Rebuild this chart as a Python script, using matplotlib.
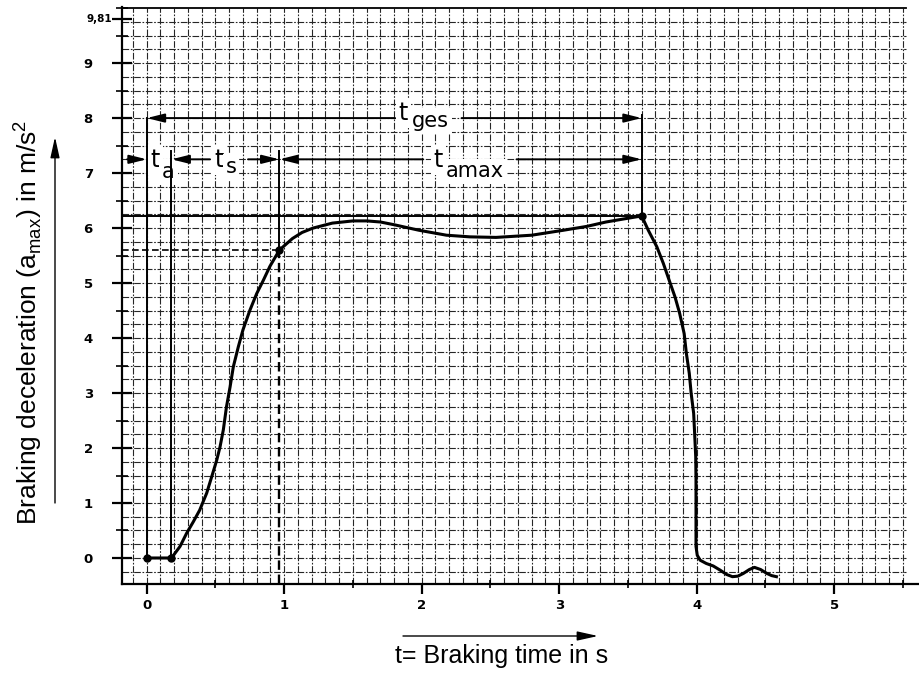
import numpy as np
import matplotlib.pyplot as plt
from matplotlib.ticker import MultipleLocator

## braking curve (t in s, a in m/s^2)
t_curve = [0.0, 0.18, 0.242, 0.29, 0.339, 0.385, 0.436, 0.48, 0.509, 0.533, 0.557,
           0.58, 0.606, 0.63, 0.666, 0.70, 0.751, 0.80, 0.848, 0.895, 0.965,
           1.06, 1.13, 1.21, 1.35, 1.50, 1.60, 1.70, 1.80, 1.98, 2.18, 2.35, 2.54,
           2.80, 3.03, 3.20, 3.34, 3.48, 3.60,
           3.648, 3.71, 3.757, 3.80, 3.842, 3.876, 3.909, 3.925, 3.946, 3.96, 3.978,
           3.985, 3.993, 3.995, 3.995, 3.995, 4.004, 4.025, 4.07, 4.12, 4.17, 4.218,
           4.26, 4.30, 4.34, 4.383, 4.42, 4.465, 4.51, 4.545, 4.58]
a_curve = [0.0, 0.0, 0.21, 0.45, 0.66, 0.87, 1.18, 1.54, 1.78, 2.02, 2.33,
           2.75, 3.11, 3.48, 3.84, 4.15, 4.51, 4.81, 5.05, 5.30, 5.60,
           5.81, 5.92, 6.00, 6.09, 6.13, 6.13, 6.11, 6.06, 5.96, 5.87, 5.84, 5.83,
           5.87, 5.96, 6.03, 6.11, 6.17, 6.22,
           5.96, 5.66, 5.36, 5.05, 4.75, 4.45, 4.08, 3.72, 3.36, 2.99, 2.63,
           2.27, 1.84, 1.42, 0.82, 0.21, 0.05, -0.04, -0.10, -0.145, -0.22, -0.30,
           -0.34, -0.33, -0.28, -0.21, -0.17, -0.21, -0.28, -0.32, -0.34]

## characteristic points
t_start = 0.0      # start of braking
t_a_end = 0.18     # end of response time t_a
t_s_end = 0.965    # end of build-up time t_s
t_max_end = 3.6    # end of full braking
a_s = 5.6          # deceleration reached at end of t_s
a_peak = 6.22      # deceleration at end of full braking
t_marks = [t_start, t_a_end, t_s_end, t_max_end]
a_marks = [0.0, 0.0, a_s, a_peak]

y_row_ges = 8.0
y_row_parts = 7.25

x_ticks = [0, 1, 2, 3, 4, 5]
y_ticks = [0, 1, 2, 3, 4, 5, 6, 7, 8, 9, 9.81]
y_ticklabels = ['0', '1', '2', '3', '4', '5', '6', '7', '8', '9', '']

fig = plt.figure(figsize=(9.19, 6.73), dpi=100)
ax = fig.add_axes([122/919, 1 - 584/673, 1 - 122/919, (584 - 7)/673])
ax.set_xlim(-0.18, 5.617)
ax.set_ylim(-0.473, 10.02)

##graph paper
grid_kw = dict(color='0.15', lw=0.8, ls=(0, (6, 1.5, 1.5, 1.5)), zorder=1)
for xv in np.arange(-0.1, 5.55, 0.1):
    ax.plot([xv, xv], [-0.473, 10.0], **grid_kw)
for yv in np.arange(-0.25, 9.8, 0.25):
    ax.plot([-0.18, 5.52], [yv, yv], **grid_kw)
ax.plot([-0.18, 5.52], [10.0, 10.0], color='k', lw=1.3, zorder=2)

for s in ['top', 'right']:
    ax.spines[s].set_visible(False)
ax.spines['left'].set_linewidth(1.6)
ax.spines['bottom'].set_linewidth(1.6)

##ticks
ax.set_xticks(x_ticks)
ax.xaxis.set_minor_locator(MultipleLocator(0.5))
ax.set_yticks(y_ticks)
ax.set_yticklabels(y_ticklabels)
ax.yaxis.set_minor_locator(MultipleLocator(0.5))
ax.tick_params(axis='x', which='major', direction='out', length=7, width=1.6, pad=4)
ax.tick_params(axis='x', which='minor', direction='inout', length=6, width=1.2)
ax.tick_params(axis='y', which='major', direction='inout', length=14, width=1.6, pad=14)
ax.tick_params(axis='y', which='minor', direction='inout', length=8, width=1.2)
for lbl in ax.get_xticklabels() + ax.get_yticklabels():
    lbl.set_fontfamily('DejaVu Sans')
    lbl.set_fontweight('bold')
    lbl.set_fontsize(9.5)
ax.text(-0.0125, 9.81, '9,81', transform=ax.get_yaxis_transform(), ha='right', va='center',
        fontsize=7.5, fontweight='bold', family='DejaVu Sans')

##curve
ax.plot(t_curve, a_curve, color='k', lw=2.2, solid_joinstyle='round', zorder=6)
ax.plot(t_marks, a_marks, 'o', color='k', ms=5, zorder=7)

##reference lines
line_kw = dict(color='k', lw=1.4, zorder=5)
ax.plot([t_start, t_start], [0, y_row_ges], **line_kw)
ax.plot([t_a_end, t_a_end], [0, y_row_parts + 0.15], **line_kw)
ax.plot([t_s_end, t_s_end], [a_s, y_row_parts + 0.15], **line_kw)
ax.plot([t_s_end, t_s_end], [-0.473, a_s], color='k', lw=1.7, ls=(0, (4, 2)), zorder=5)
ax.plot([t_max_end, t_max_end], [a_peak, y_row_ges + 0.05], **line_kw)
ax.plot([-0.18, t_max_end], [a_peak, a_peak], **line_kw)
ax.plot([-0.18, t_s_end], [a_s, a_s], color='k', lw=1.2, ls=(0, (4, 2)), zorder=5)

arrow_kw = dict(arrowstyle='-|>,head_length=0.8,head_width=0.2', mutation_scale=13,
                lw=1.4, color='k', shrinkA=0, shrinkB=0)


def dim(x_tail, x_tip, y):
    ax.annotate('', xy=(x_tip, y), xytext=(x_tail, y), arrowprops=arrow_kw, zorder=5)


##t_ges row
dim(1.806, t_start, y_row_ges)
dim(2.29, t_max_end, y_row_ges)
##t_a, t_s, t_amax row
dim(-0.143, t_start, y_row_parts)
dim(0.46, t_a_end, y_row_parts)
dim(0.737, t_s_end, y_row_parts)
dim(2.01, t_s_end, y_row_parts)
dim(2.69, t_max_end, y_row_parts)

box = dict(fc='white', ec='none', pad=2)
lab_kw = dict(family='DejaVu Sans', color='k', zorder=4, ha='left', va='baseline')
ax.text(1.83, 7.96, 't', fontsize=17, bbox=box, **lab_kw)
ax.text(1.93, 7.84, 'ges', fontsize=15, bbox=box, **lab_kw)
ax.text(0.03, 7.11, 't', fontsize=17, bbox=box, **lab_kw)
ax.text(0.112, 6.91, 'a', fontsize=15, bbox=box, **lab_kw)
ax.text(0.49, 7.11, 't', fontsize=17, bbox=box, **lab_kw)
ax.text(0.575, 7.0, 's', fontsize=15, bbox=box, **lab_kw)
ax.text(2.085, 7.11, 't', fontsize=17, bbox=box, **lab_kw)
ax.text(2.175, 6.92, 'amax', fontsize=15, bbox=box, **lab_kw)

##axis titles with arrows
fig.text(28/919, 1 - 322/673, 'Braking deceleration (a$_{\\mathregular{max}}$) in m/s$^{\\mathregular{2}}$',
         rotation=90, ha='center', va='center', fontsize=19, family='Liberation Sans')
fig.text(502/919, 1 - 656/673, 't= Braking time in s', ha='center', va='center',
         fontsize=18, family='Liberation Sans')
fig_arrow = dict(arrowstyle='-|>,head_length=0.9,head_width=0.2', mutation_scale=14,
                 lw=1.0, color='k', shrinkA=0, shrinkB=0)
ax.annotate('', xy=(55/919, 1 - 137/673), xytext=(55/919, 1 - 503/673),
            xycoords='figure fraction', textcoords='figure fraction', arrowprops=fig_arrow)
ax.annotate('', xy=(598/919, 1 - 636/673), xytext=(403/919, 1 - 636/673),
            xycoords='figure fraction', textcoords='figure fraction', arrowprops=fig_arrow)

fig.savefig('out.png', dpi=100)
